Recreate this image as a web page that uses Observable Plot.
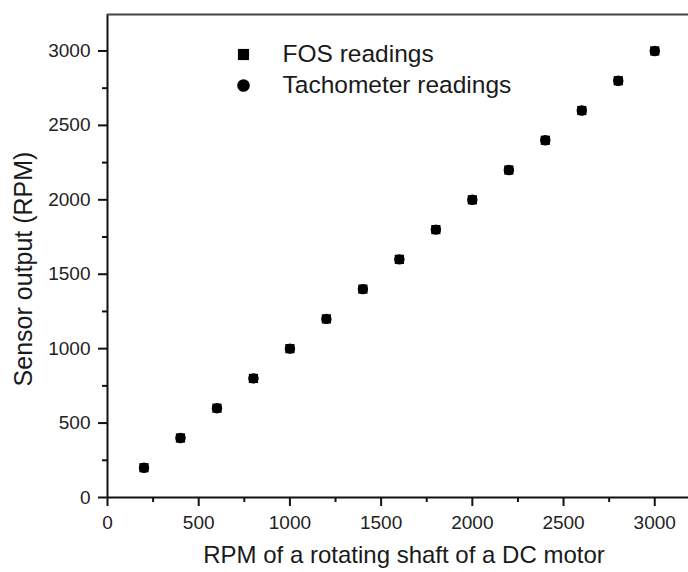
<!DOCTYPE html>
<html>
<head>
<meta charset="utf-8">
<script src="https://cdn.jsdelivr.net/npm/d3@7"></script>
<script src="https://cdn.jsdelivr.net/npm/@observablehq/plot@0.6"></script>
<style>
  html, body { margin: 0; padding: 0; background: #fff; }
  svg { display: block; }
</style>
</head>
<body>
<div id="chart"></div>
<script>
// Data
const shaftRPM = [200, 400, 600, 800, 1000, 1200, 1400, 1600, 1800, 2000, 2200, 2400, 2600, 2800, 3000];
const fosReadings = [200, 400, 600, 800, 1000, 1200, 1400, 1600, 1800, 2000, 2200, 2400, 2600, 2800, 3000];
const tachReadings = [200, 400, 600, 800, 1000, 1200, 1400, 1600, 1800, 2000, 2200, 2400, 2600, 2800, 3000];
const xMajorTicks = [0, 500, 1000, 1500, 2000, 2500, 3000];
const xMinorTicks = [250, 750, 1250, 1750, 2250, 2750];
const yMajorTicks = [0, 500, 1000, 1500, 2000, 2500, 3000];
const yMinorTicks = [250, 750, 1250, 1750, 2250, 2750];
const legendLabels = ["FOS readings", "Tachometer readings"];

const fosData = shaftRPM.map((x, i) => ({x, y: fosReadings[i]}));
const tachData = shaftRPM.map((x, i) => ({x, y: tachReadings[i]}));

const font = "'Liberation Sans', Arial, sans-serif";
const yTop = 3245;

const chart = Plot.plot({
  width: 688,
  height: 572,
  marginLeft: 107,
  marginRight: 0,
  marginTop: 14,
  marginBottom: 75,
  style: {fontFamily: font, background: "#fff", color: "#222"},
  x: {domain: [0, 3185]},
  y: {domain: [0, yTop]},
  marks: [
    // axis lines and top frame
    Plot.ruleY([0], {stroke: "#111", strokeWidth: 2}),
    Plot.ruleX([0], {stroke: "#111", strokeWidth: 2}),
    Plot.ruleY([yTop], {stroke: "#444", strokeWidth: 2}),
    // x axis
    Plot.axisX({ticks: xMajorTicks, tickSize: 9, tickPadding: 9, tickFormat: d => String(d),
      fontSize: 19, stroke: "#111", strokeWidth: 2, fill: "#222", label: null}),
    Plot.axisX({ticks: xMinorTicks, tickSize: 5, text: null, stroke: "#111", strokeWidth: 2, label: null}),
    // y axis
    Plot.axisY({ticks: yMajorTicks, tickSize: 9, tickPadding: 8, tickFormat: d => String(d),
      fontSize: 19, stroke: "#111", strokeWidth: 2, fill: "#222", label: null}),
    Plot.axisY({ticks: yMinorTicks, tickSize: 5, text: null, stroke: "#111", strokeWidth: 2, label: null}),
    // axis titles
    Plot.text(["RPM of a rotating shaft of a DC motor"], {frameAnchor: "bottom", dy: 58, dx: 6,
      fontSize: 24, fill: "#1a1a1a", lineAnchor: "middle", textAnchor: "middle"}),
    Plot.text(["Sensor output (RPM)"], {frameAnchor: "left", dx: -84, dy: 13, rotate: -90,
      fontSize: 25, fill: "#1a1a1a", lineAnchor: "middle", textAnchor: "middle"}),
    // data
    Plot.dot(fosData, {x: "x", y: "y", symbol: "square", r: 5.2, fill: "#000", stroke: "none"}),
    Plot.dot(tachData, {x: "x", y: "y", symbol: "circle", r: 5.2, fill: "#000", stroke: "none"}),
    // legend
    Plot.dot([legendLabels[0]], {frameAnchor: "top-left", dx: 136, dy: 40, symbol: "square", r: 6.3, fill: "#000"}),
    Plot.dot([legendLabels[1]], {frameAnchor: "top-left", dx: 136, dy: 71, symbol: "circle", r: 6.3, fill: "#000"}),
    Plot.text([legendLabels[0]], {frameAnchor: "top-left", dx: 175, dy: 40, text: d => d, textAnchor: "start",
      lineAnchor: "middle", fontSize: 24.5, fill: "#1a1a1a"}),
    Plot.text([legendLabels[1]], {frameAnchor: "top-left", dx: 175, dy: 71, text: d => d, textAnchor: "start",
      lineAnchor: "middle", fontSize: 24.5, fill: "#1a1a1a"})
  ]
});
document.getElementById("chart").append(chart);
</script>
</body>
</html>
